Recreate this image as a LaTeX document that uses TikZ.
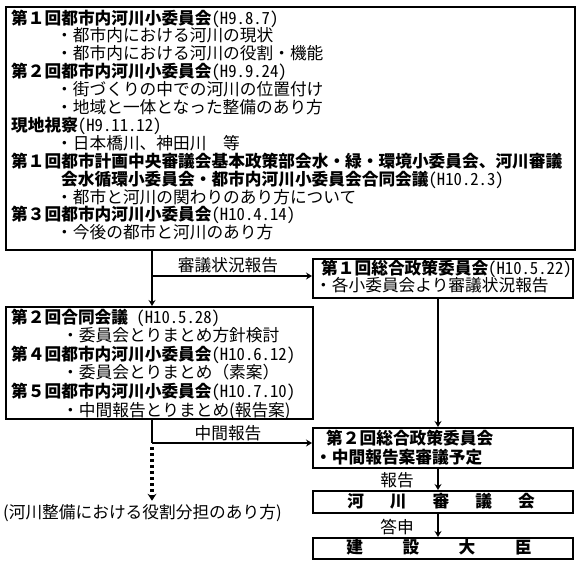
\documentclass[tikz,border=0pt]{standalone}
\usepackage{fontspec}
\newfontfamily\jp{Noto Sans CJK JP}
\newfontfamily\jph{Noto Sans CJK JP}[RawFeature=+hwid]
\usetikzlibrary{arrows.meta}
\newcommand\hdate[1]{{\jph\mdseries#1}}
\begin{document}
\begin{tikzpicture}[x=1pt,y=-1pt,
  box/.style={draw, line width=1.6pt, inner sep=0pt, anchor=north west},
  txt/.style={inner sep=0pt, anchor=base west, font=\jp\fontsize{16.7}{18}\selectfont},
  hd/.style={inner sep=0pt, anchor=base west, font=\jp\bfseries\fontsize{16.7}{18}\selectfont},
  lbl/.style={inner sep=0pt, anchor=base, font=\jp\fontsize{16.7}{18}\selectfont},
  ln/.style={line width=1.6pt},
  arr/.style={line width=1.6pt, -{Stealth[length=6pt,width=7pt,inset=2pt]}},
  dotarr/.style={line width=3.2pt, dash pattern=on 3pt off 3pt, -{Stealth[length=7pt,width=9pt,inset=2.5pt,line width=0pt]}}
]
\useasboundingbox (0,0) rectangle (580,562);
% boxes
\node[box, minimum width=569pt, minimum height=243pt] (b1) at (5,6) {};
\node[box, minimum width=260pt, minimum height=39pt] (r1) at (312,258) {};
\node[box, minimum width=307pt, minimum height=112pt] (b2) at (5,306) {};
\node[box, minimum width=260pt, minimum height=40pt] (r2) at (312,427) {};
\node[box, minimum width=260pt, minimum height=22pt] (r3) at (312,490) {};
\node[box, minimum width=260pt, minimum height=21pt] (r4) at (312,537) {};
% box 1 text
\node[hd] (t1) at (11,24.0) {第１回都市内河川小委員会\hdate{(H9.8.7)}};
\node[txt] (t2) at (56,41.9) {・都市内における河川の現状};
\node[txt] (t3) at (56,59.8) {・都市内における河川の役割・機能};
\node[hd] (t4) at (11,77.7) {第２回都市内河川小委員会\hdate{(H9.9.24)}};
\node[txt] (t5) at (56,95.6) {・街づくりの中での河川の位置付け};
\node[txt] (t6) at (56,113.5) {・地域と一体となった整備のあり方};
\node[hd] (t7) at (11,131.4) {現地視察\hdate{(H9.11.12)}};
\node[txt] (t8) at (56,149.3) {・日本橋川、神田川　等};
\node[hd] (t9) at (11,167.2) {第１回都市計画中央審議会基本政策部会水・緑・環境小委員会、河川審議};
\node[hd] (t10) at (61,185.1) {会水循環小委員会・都市内河川小委員会合同会議\hdate{(H10.2.3)}};
\node[txt] (t11) at (56,203.0) {・都市と河川の関わりのあり方について};
\node[hd] (t12) at (11,220.9) {第３回都市内河川小委員会\hdate{(H10.4.14)}};
\node[txt] (t13) at (56,238.8) {・今後の都市と河川のあり方};
% box 2 text
\node[hd] (u1) at (11,323.0) {第２回合同会議\hdate{ (H10.5.28)}};
\node[txt] (u2) at (62,341.6) {・委員会とりまとめ方針検討};
\node[hd] (u3) at (11,360.2) {第４回都市内河川小委員会\hdate{(H10.6.12)}};
\node[txt] (u4) at (62,378.8) {・委員会とりまとめ（素案）};
\node[hd] (u5) at (11,397.4) {第５回都市内河川小委員会\hdate{(H10.7.10)}};
\node[txt] (u6) at (62,416.0) {・中間報告とりまとめ(報告案)};
% right boxes text
\node[hd] (v1) at (321,274) {第１回総合政策委員会\hdate{(H10.5.22)}};
\node[txt] (v2) at (315,291) {・各小委員会より審議状況報告};
\node[hd] (w1) at (326,444) {第２回総合政策委員会};
\node[hd] (w2) at (315,463) {・中間報告案審議予定};
\node[hd, anchor=base] (k1) at (441,507) {河\hspace{26pt}川\hspace{26pt}審\hspace{26pt}議\hspace{26pt}会};
\node[hd, anchor=base] (k2) at (439,553.5) {建\hspace{39.5pt}設\hspace{39.5pt}大\hspace{39.5pt}臣};
% labels
\node[lbl] (l1) at (228,271) {審議状況報告};
\node[lbl] (l2) at (228,439) {中間報告};
\node[lbl] (l3) at (397,486) {報告};
\node[lbl] (l4) at (397,533) {答申};
\node[txt] (note) at (3,518) {(河川整備における役割分担のあり方)};
% junctions
\coordinate (j1) at (152,276);
\coordinate (j2) at (152,443);
\coordinate (col) at (438,0);
% connectors
\draw[ln] (b1.south -| j1) -- (j1);
\draw[arr] (j1) -- (b2.north -| j1);
\draw[arr] (j1) -- (j1 -| r1.west);
\draw[ln] (b2.south -| j2) -- (j2);
\draw[arr] (j2) -- (j2 -| r2.west);
\draw[dotarr] ([yshift=-4pt]j2) -- ([yshift=3pt]note.north -| j2);
\draw[arr] (r1.south -| col) -- (r2.north -| col);
\draw[arr] (r2.south -| col) -- (r3.north -| col);
\draw[arr] (r3.south -| col) -- (r4.north -| col);
\end{tikzpicture}
\end{document}
